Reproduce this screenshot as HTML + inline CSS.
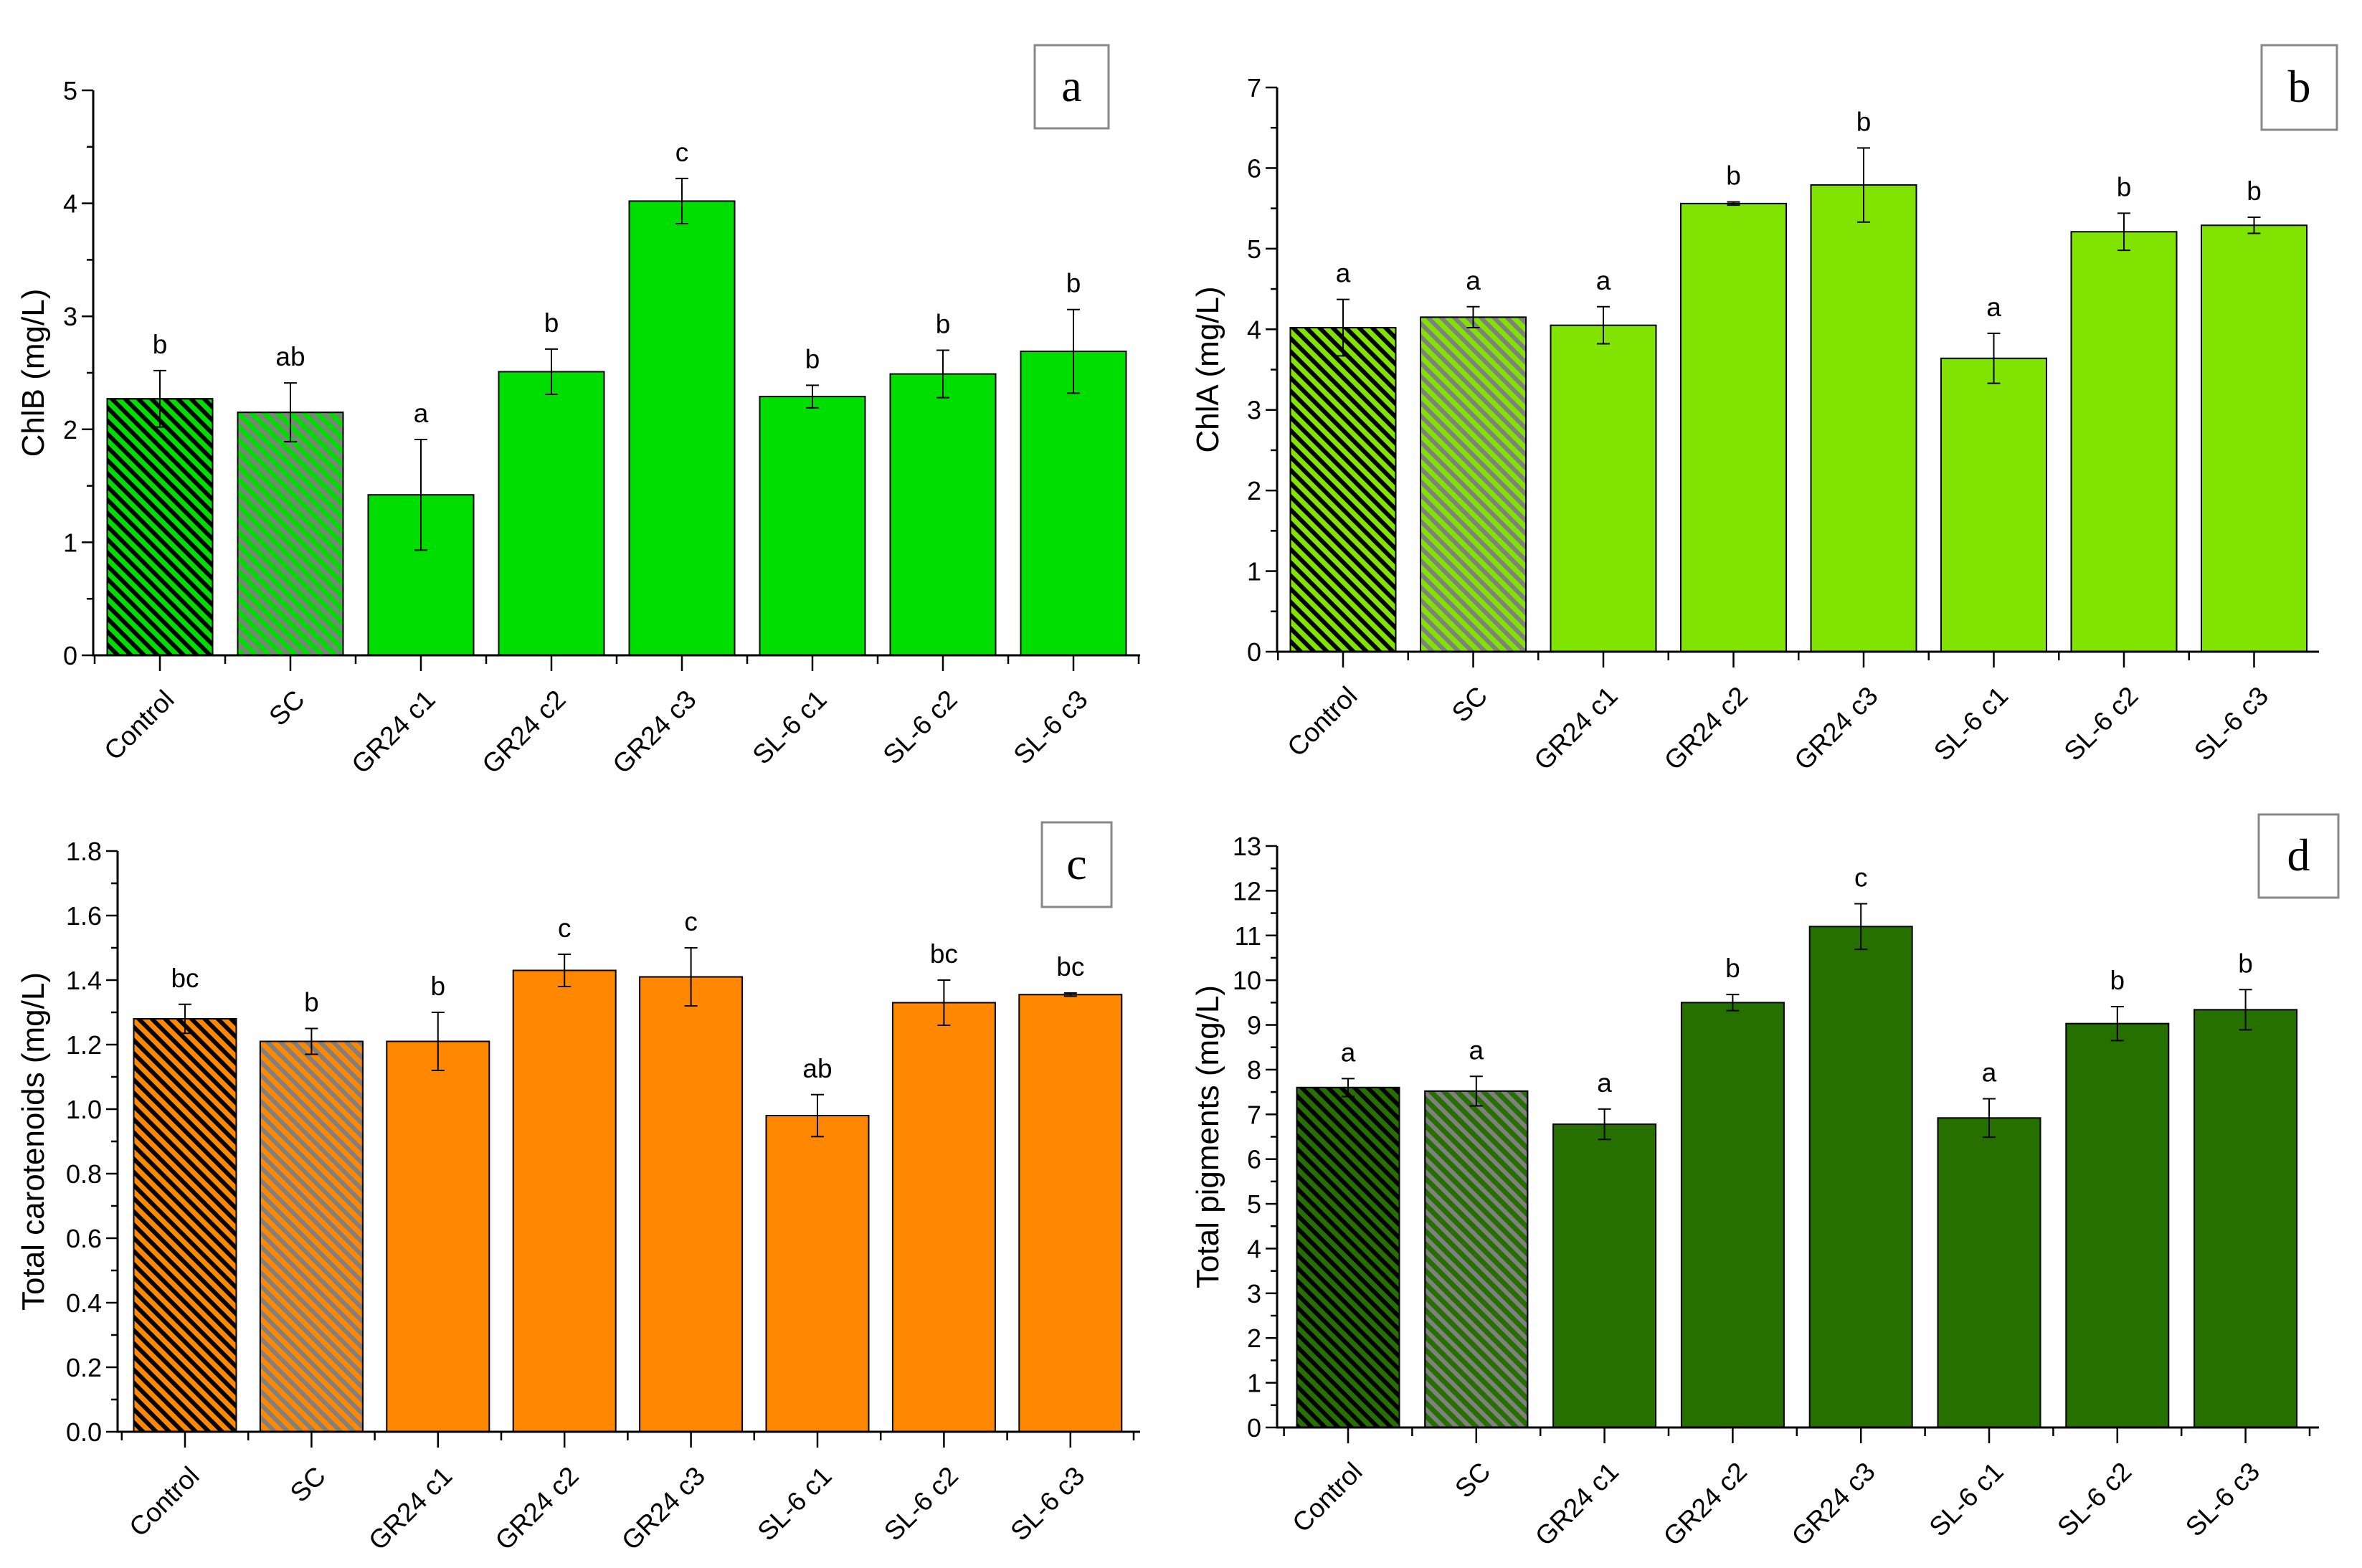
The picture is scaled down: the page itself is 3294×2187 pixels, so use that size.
<!DOCTYPE html>
<html><head><meta charset="utf-8"><style>
html,body{margin:0;padding:0;background:#fff}
svg{display:block}
text{font-family:"Liberation Sans",sans-serif}
</style></head><body>
<svg id="chart" width="3294" height="2187" viewBox="0 0 3294 2187" xmlns="http://www.w3.org/2000/svg">
<defs>
<pattern id="hatchBlack" patternUnits="userSpaceOnUse" width="13" height="13" patternTransform="rotate(-45)">
<rect x="0" y="0" width="6" height="13" fill="#000"/></pattern>
<pattern id="hatchGray" patternUnits="userSpaceOnUse" width="13" height="13" patternTransform="rotate(-45)">
<rect x="0" y="0" width="6" height="13" fill="#808080"/></pattern>
</defs>
</svg>
<script>
const categories = ["Control","SC","GR24 c1","GR24 c2","GR24 c3","SL-6 c1","SL-6 c2","SL-6 c3"];
const valuesA = [2.27,2.15,1.42,2.51,4.02,2.29,2.49,2.69];
const errorsA = [0.25,0.26,0.49,0.20,0.20,0.10,0.21,0.37];
const lettersA = ["b","ab","a","b","c","b","b","b"];
const valuesB = [4.02,4.15,4.05,5.56,5.79,3.64,5.21,5.29];
const errorsB = [0.35,0.13,0.23,0.02,0.46,0.31,0.23,0.10];
const lettersB = ["a","a","a","b","b","a","b","b"];
const valuesC = [1.28,1.21,1.21,1.43,1.41,0.98,1.33,1.355];
const errorsC = [0.045,0.04,0.09,0.05,0.09,0.065,0.07,0.005];
const lettersC = ["bc","b","b","c","c","ab","bc","bc"];
const valuesD = [7.6,7.52,6.78,9.5,11.2,6.92,9.03,9.34];
const errorsD = [0.2,0.33,0.34,0.18,0.51,0.43,0.38,0.45];
const lettersD = ["a","a","a","b","c","a","b","b"];
const ticksA = ["0","1","2","3","4","5"];
const ticksB = ["0","1","2","3","4","5","6","7"];
const ticksC = ["0.0","0.2","0.4","0.6","0.8","1.0","1.2","1.4","1.6","1.8"];
const ticksD = ["0","1","2","3","4","5","6","7","8","9","10","11","12","13"];

const NS="http://www.w3.org/2000/svg";
const svg=document.getElementById('chart');
function mk(tag,attrs,parent){const e=document.createElementNS(NS,tag);for(const k in attrs)e.setAttribute(k,attrs[k]);(parent||svg).appendChild(e);return e;}

const panels=[
 {id:'a',vals:valuesA,errs:errorsA,lets:lettersA,ticks:ticksA,step:1,max:5,minor:0.5,color:'#00dd00',title:'ChlB (mg/L)',
  x0:130,y0:914,yTop:126,xEnd:1590,first:223,dx:182,bw:147,lblX:46,box:[1443,63,103,116]},
 {id:'b',vals:valuesB,errs:errorsB,lets:lettersB,ticks:ticksB,step:1,max:7,minor:0.5,color:'#80e400',title:'ChlA (mg/L)',
  x0:1781,y0:909,yTop:122,xEnd:3234,first:1873,dx:181.5,bw:147,lblX:1684,box:[3154,63,105,118]},
 {id:'c',vals:valuesC,errs:errorsC,lets:lettersC,ticks:ticksC,step:0.2,max:1.8,minor:0.1,color:'#ff8800',title:'Total carotenoids (mg/L)',
  x0:164,y0:1997,yTop:1187,xEnd:1590,first:258,dx:176.4,bw:143,lblX:46,box:[1453,1147,97,118]},
 {id:'d',vals:valuesD,errs:errorsD,lets:lettersD,ticks:ticksD,step:1,max:13,minor:0.5,color:'#267000',title:'Total pigments (mg/L)',
  x0:1781,y0:1991,yTop:1180,xEnd:3234,first:1880,dx:178.8,bw:143,lblX:1684,box:[3150,1136,111,116]}
];

panels.forEach(p=>{
 const g=mk('g',{});
 
 
 const y=v=>p.y0-(v/p.max)*(p.y0-p.yTop);
 p.vals.forEach((v,i)=>{
  const cx=p.first+i*p.dx;
  const r=mk('rect',{x:cx-p.bw/2,y:y(v),width:p.bw,height:p.y0-y(v),fill:p.color,stroke:'#000','stroke-width':2},g);
  
  
  if(i<2){
   const h=mk('rect',{x:cx-p.bw/2,y:y(v),width:p.bw,height:p.y0-y(v),fill:i==0?'url(#hatchBlack)':'url(#hatchGray)',stroke:'#000','stroke-width':2},g);
   
   
  }
  const e=p.errs[i];
  const eb=mk('path',{d:`M${cx},${y(v+e)}V${y(v-e)}M${cx-9},${y(v+e)}H${cx+9}M${cx-9},${y(v-e)}H${cx+9}`,stroke:'#000','stroke-width':2,fill:'none'},g);
  
  
  const t=mk('text',{x:cx,y:y(v+e)-24,'text-anchor':'middle','font-size':37},g);
  t.textContent=p.lets[i];
  
  
  mk('line',{x1:cx,y1:p.y0,x2:cx,y2:p.y0+22,stroke:'#000','stroke-width':2.5},g);
  const lx=cx+22, ly=p.y0+64;
  const xl=mk('text',{x:lx,y:ly,'text-anchor':'end','font-size':37,transform:`rotate(-45 ${lx} ${ly})`},g);
  xl.textContent=categories[i];
  
  
 });
 for(let i=0;i<=8;i++){const mx=p.first+(i-0.5)*p.dx; if(mx>p.x0&&mx<p.xEnd) mk('line',{x1:mx,y1:p.y0,x2:mx,y2:p.y0+12,stroke:'#000','stroke-width':2.5},g);}
 const ax=mk('path',{d:`M${p.x0},${p.yTop}V${p.y0}H${p.xEnd}`,stroke:'#000','stroke-width':3,fill:'none'},g);
 
 
 const nMinor=Math.round(p.max/p.minor);
 for(let k=0;k<=nMinor;k++){const v=k*p.minor; const yy=y(v);
  const major=Math.abs((v/p.step)-Math.round(v/p.step))<1e-6;
  mk('line',{x1:p.x0-(major?16:9),y1:yy,x2:p.x0,y2:yy,stroke:'#000','stroke-width':2.5},g);}
 p.ticks.forEach((lab,k)=>{
  const t=mk('text',{x:p.x0-22,y:y(k*p.step)+13,'text-anchor':'end','font-size':36},g);
  t.textContent=lab;
  
  
 });
 const cy=(p.y0+p.yTop)/2;
 const yt=mk('text',{x:p.lblX,y:cy,'text-anchor':'middle','font-size':44,transform:`rotate(-90 ${p.lblX} ${cy})`,dy:15},g);
 yt.textContent=p.title;
 
 
 const b=p.box;
 const br=mk('rect',{x:b[0],y:b[1],width:b[2],height:b[3],fill:'#fff',stroke:'#888','stroke-width':3},g);
 
 
 const bt=mk('text',{x:b[0]+b[2]/2,y:b[1]+b[3]/2+20,'text-anchor':'middle','font-size':64,style:'font-family:"Liberation Serif",serif'},g);
 bt.textContent=p.id;
 
 
});
</script>
</body></html>
